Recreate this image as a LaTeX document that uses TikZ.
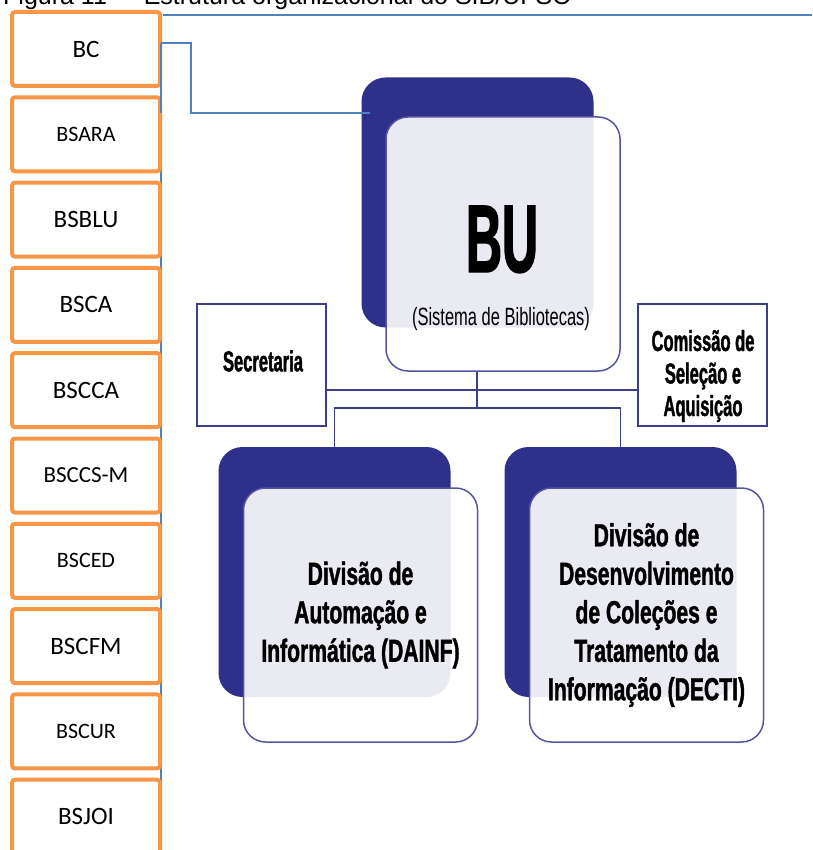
\documentclass[tikz,border=0pt]{standalone}
\usepackage{fontspec}
\setmainfont{Liberation Sans}
\newfontfamily\calibrifont{Carlito}
\newfontfamily\bufont[FakeStretch=0.52,FakeBold=1.5]{Liberation Sans}
\newfontfamily\boxfont[FakeStretch=0.57,FakeBold=1.2]{Liberation Sans}
\newfontfamily\divfont[FakeStretch=0.66,FakeBold=1.2]{Liberation Sans}
\newfontfamily\subfont[FakeStretch=0.66]{Liberation Sans}
\definecolor{cardnavy}{RGB}{46,48,138}
\definecolor{cardedge}{RGB}{84,84,160}
\definecolor{railnavy}{RGB}{60,62,140}
\definecolor{unitorange}{RGB}{247,150,70}
\definecolor{linkblue}{RGB}{79,129,189}
\begin{document}
\begin{tikzpicture}[x=1pt, y=-1pt,
	unitbox/.style={draw=unitorange, line width=4pt, rounded corners=3pt, fill=white, minimum width=148pt, minimum height=74pt, inner sep=0pt},
	backcard/.style={fill=cardnavy, rounded corners=24pt, minimum width=232pt, minimum height=250pt, inner sep=0pt},
	frontcard/.style={draw=cardedge, line width=1.5pt, fill=white, fill opacity=0.9, text opacity=1, rounded corners=22pt, minimum width=234pt, minimum height=254pt, inner sep=0pt, align=center, font=\divfont\bfseries\fontsize{32}{38.5}\selectfont},
	sidebox/.style={draw=railnavy, line width=1.5pt, fill=white, minimum width=129pt, minimum height=122pt, inner sep=0pt},
	sidetext/.style={align=center, inner sep=0pt, font=\boxfont\bfseries\fontsize{29}{32.5}\selectfont},
	rail/.style={draw=railnavy, line width=1.5pt},
	link/.style={draw=linkblue, line width=1.5pt}]
		\useasboundingbox (0,0) rectangle (812,850);
		\clip (0,0) rectangle (812,850);
		\node[anchor=base west, inner sep=0pt, font=\fontsize{25}{30}\selectfont] (caption) at (3,5) {Figura 11 –\hspace{16pt}Estrutura organizacional do SIB/UFSC};
		\draw[link] (163,15) -- (812,15);
		\coordinate (spinetop) at (161,43);
		\coordinate (spineknee) at (161,113);
		\coordinate (spinebot) at (161,850);
		\coordinate (buport) at (370,113);
		\draw[link] (spinetop) -- (spinebot);
		\foreach \name/\size [count=\i from 0] in {BC/25, BSARA/22, BSBLU/25, BSCA/25, BSCCA/25, BSCCS-M/23, BSCED/22, BSCFM/25, BSCUR/22, BSJOI/25}
			\node[unitbox, font=\calibrifont\fontsize{\size}{\size}\selectfont] (unit\i) at (86,49+85.3*\i) {\name};
		\draw[link] (spinetop) -- (spineknee);
		\node[backcard] (bu-back) at (477.5,202.5) {};
		\draw[link] (spinetop) -- ++(30,0) |- (buport);
		\coordinate (hub) at (477,408);
		\coordinate (midrail) at (477,390);
		\node[frontcard] (bu) at (503,244) {};
		\node[anchor=base, inner sep=0pt, font=\bufont\bfseries\fontsize{96}{96}\selectfont] (bu-name) at (502,272) {BU};
		\node[anchor=base, inner sep=0pt, font=\subfont\fontsize{25}{30}\selectfont] (bu-sub) at (501,325) {(Sistema de Bibliotecas)};
		\node[sidebox] (secretaria) at (261.5,365) {};
		\node[sidetext] (secretaria-text) at (263,361) {Secretaria};
		\node[sidebox] (comissao) at (702.5,365) {};
		\node[sidetext] (comissao-text) at (703,376) {Comissão de\\Seleção e\\Aquisição};
		\draw[rail] (secretaria.east |- midrail) -- (comissao.west |- midrail);
		\draw[rail] (bu.south -| hub) -- (hub);
		\node[backcard] (dainf-back) at (334.5,572) {};
		\node[frontcard] (dainf) at (360.5,615) {Divisão de\\Automação e\\Informática (DAINF)};
		\node[backcard] (decti-back) at (620.5,572) {};
		\node[frontcard] (decti) at (646.5,615) {Divisão de\\Desenvolvimento\\de Coleções e\\Tratamento da\\Informação (DECTI)};
		\draw[rail] (dainf-back.north) |- (hub) -| (decti-back.north);
\end{tikzpicture}
\end{document}
